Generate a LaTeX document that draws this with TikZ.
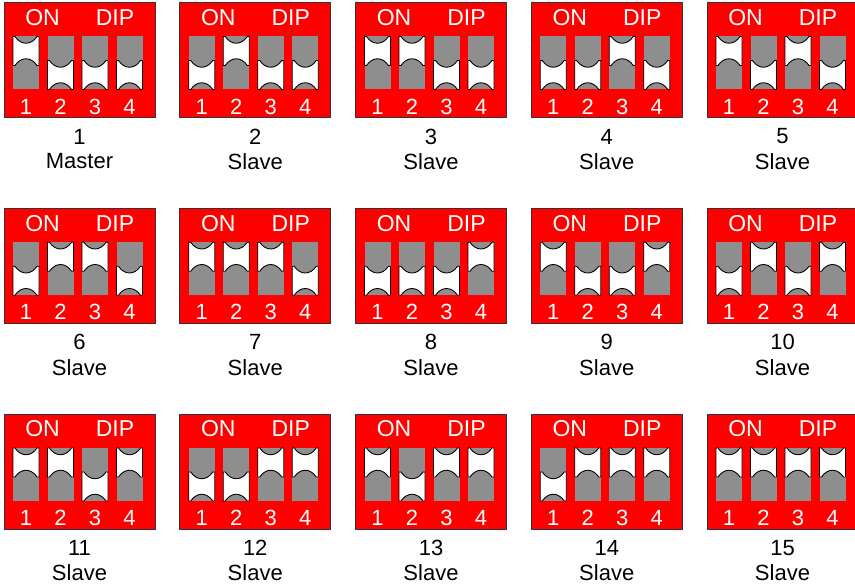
\documentclass[tikz,border=0pt]{standalone}
\usepackage{fontspec}
\setmainfont{Liberation Sans}
\definecolor{dipred}{HTML}{FF0000}
\definecolor{slotgray}{HTML}{8E8E8E}
\begin{document}
\begin{tikzpicture}[x=1pt,y=-1pt,
  dipbox/.style={fill=dipred, draw=black!80, line width=0.8pt},
  slotbox/.style={fill=slotgray},
  lever/.style={fill=white, draw=black, line width=0.9pt, line join=round},
  hdr/.style={text=white, font=\fontsize{23}{23}\selectfont, inner sep=0pt},
  digit/.style={text=white, font=\fontsize{22}{22}\selectfont, inner sep=0pt},
  lbl/.style={text=black, font=\fontsize{22}{22}\selectfont, inner sep=0pt}]
\useasboundingbox (0,0) rectangle (855,586);
\foreach \n/\col/\row/\role/\sa/\sb/\sc/\sd in {
  1/0/0/Master/1/0/0/0, 2/1/0/Slave/0/1/0/0, 3/2/0/Slave/1/1/0/0, 4/3/0/Slave/0/0/1/0, 5/4/0/Slave/1/0/1/0,
  6/0/1/Slave/0/1/1/0, 7/1/1/Slave/1/1/1/0, 8/2/1/Slave/0/0/0/1, 9/3/1/Slave/1/0/0/1, 10/4/1/Slave/0/1/0/1,
  11/0/2/Slave/1/1/0/1, 12/1/2/Slave/0/0/1/1, 13/2/2/Slave/1/0/1/1, 14/3/2/Slave/0/1/1/1, 15/4/2/Slave/1/1/1/1}{
  \pgfmathsetmacro\bx{4+175.75*\col}
  \pgfmathsetmacro\by{2.5+205.75*\row}
  \draw[dipbox] (\bx,\by) rectangle ++(151,115);
  \node[hdr] (on-\n) at (\bx+38.5,\by+15) {ON};
  \node[hdr] (dip-\n) at (\bx+111,\by+15) {DIP};
  \foreach \k/\s in {1/\sa,2/\sb,3/\sc,4/\sd}{
    \pgfmathsetmacro\lx{\bx+9+34.5*(\k-1)}
    \pgfmathsetmacro\ly{\by+34+24*(1-\s)}
    \fill[slotbox] (\lx,\by+34) rectangle ++(26,53);
    \draw[lever] (\lx,\ly) -- ++(2,0) .. controls +(6,9) and +(-6,9) .. ++(22,0) -- ++(2,0)
      -- ++(0,29) -- ++(-2,0) .. controls +(-6,-9) and +(6,-9) .. ++(-22,0) -- ++(-2,0) -- cycle;
    \node[digit] (d-\n-\k) at (\lx+13,\by+104) {\k};
  }
  \node[lbl] (num-\n) at (\bx+75.5,\by+134) {\n};
  \node[lbl] (role-\n) at (\bx+75.5,\by+159) {\role};
}
\end{tikzpicture}
\end{document}
